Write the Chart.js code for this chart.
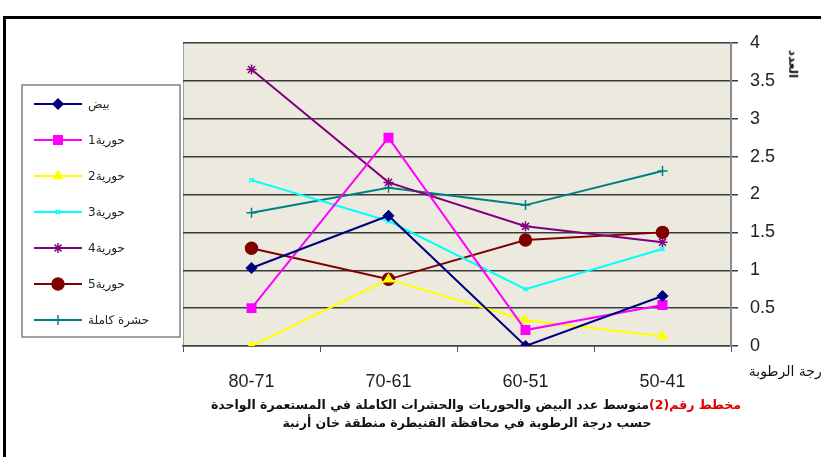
<!DOCTYPE html>
<html lang="ar">
<head>
<meta charset="utf-8">
<script src="https://cdn.jsdelivr.net/npm/chart.js@4.4.1/dist/chart.umd.min.js"></script>
<style>
    html, body { margin: 0; padding: 0; background: #fff; overflow: hidden; }
    #wrap { position: relative; width: 821px; height: 457px; overflow: hidden; }
    #frame { position: absolute; left: 3px; top: 16px; width: 840px; height: 470px;
             border-top: 3px solid #000; border-left: 3px solid #000; }
    #chart { position: absolute; left: 0; top: 0; }
    .txt { position: absolute; font-family: 'DejaVu Sans', sans-serif; white-space: nowrap; color: #111; direction: rtl; }
    .cap { font-weight: bold; font-size: 12.5px; text-align: center; left: 0; }
    .red { color: #e00000; }
</style>
</head>
<body>
<div id="wrap">
    <div id="frame"></div>
    <canvas id="chart" width="821" height="457"></canvas>
    <div class="txt" id="xTitle" style="right:-7px; top:363px; font-size:14px;"></div>
    <div class="txt" id="yTitle" style="left:779px; top:57px; font-size:12px; font-weight:bold; transform:rotate(90deg);"></div>
    <div class="txt cap" id="cap1" style="width:952px; top:397px;"></div>
    <div class="txt cap" id="cap2" style="width:934px; top:415px;"></div>
</div>
<script>
// humidity ranges (right-to-left chart, so 80-71 first on the left)
const categories = ['80-71', '70-61', '60-51', '50-41'];

// average count per colony
const eggs    = [1.03, 1.72, 0.00, 0.66];
const nymph1  = [0.50, 2.75, 0.21, 0.54];
const nymph2  = [0.00, 0.88, 0.34, 0.13];
const nymph3  = [2.19, 1.65, 0.75, 1.28];
const nymph4  = [3.65, 2.16, 1.58, 1.37];
const nymph5  = [1.29, 0.88, 1.40, 1.50];
const adults  = [1.76, 2.09, 1.86, 2.31];

const seriesNames = ['بيض', 'حورية1', 'حورية2', 'حورية3', 'حورية4', 'حورية5', 'حشرة كاملة'];
const yTicks = [0, 0.5, 1, 1.5, 2, 2.5, 3, 3.5, 4];

const xTitle = 'درجة الرطوبة';
const yTitle = 'العدد';
const capLabel = 'مخطط رقم(2)';
const capLine1 = 'متوسط عدد البيض والحوريات والحشرات الكاملة في المستعمرة الواحدة';
const capLine2 = 'حسب درجة الرطوبة في محافظة القنيطرة منطقة خان أرنبة';

document.getElementById('xTitle').textContent = xTitle;
document.getElementById('yTitle').textContent = yTitle;
document.getElementById('cap1').innerHTML = '<span class="red">' + capLabel + '</span>' + capLine1;
document.getElementById('cap2').textContent = capLine2;

function makeSet(label, data, color, style, radius) {
    return {
        label: label,
        data: data,
        borderColor: color,
        backgroundColor: color,
        borderWidth: 2,
        pointStyle: style,
        pointRadius: radius,
        pointBorderColor: color,
        pointBackgroundColor: color,
        pointBorderWidth: 1.5,
        tension: 0
    };
}

const datasets = [
    makeSet(seriesNames[0], eggs,   '#000080', 'rectRot', 5),
    makeSet(seriesNames[1], nymph1, '#ff00ff', 'rect', 6),
    makeSet(seriesNames[2], nymph2, '#ffff00', 'triangle', 5),
    makeSet(seriesNames[3], nymph3, '#00ffff', 'crossRot', 3),
    makeSet(seriesNames[4], nymph4, '#800080', 'star', 5),
    makeSet(seriesNames[5], nymph5, '#800000', 'circle', 6),
    makeSet(seriesNames[6], adults, '#008080', 'cross', 5)
];

// plot area fill
const plotBg = {
    id: 'plotBg',
    beforeDraw(chart) {
        const { ctx, chartArea: a } = chart;
        ctx.save();
        ctx.fillStyle = '#eceadf';
        ctx.fillRect(a.left, a.top, a.right - a.left, a.bottom - a.top);
        ctx.strokeStyle = '#a0a0a0';
        ctx.lineWidth = 1;
        ctx.beginPath();
        ctx.moveTo(a.left + 0.5, a.top);
        ctx.lineTo(a.left + 0.5, a.bottom);
        ctx.stroke();
        ctx.restore();
    }
};

// boxed legend on the left, line sample + marker then text
const sideLegend = {
    id: 'sideLegend',
    afterDraw(chart) {
        const ctx = chart.ctx;
        const box = { x: 22, y: 85, w: 158, h: 252 };
        ctx.save();
        ctx.fillStyle = '#fff';
        ctx.fillRect(box.x, box.y, box.w, box.h);
        ctx.strokeStyle = '#808080';
        ctx.lineWidth = 1.5;
        ctx.strokeRect(box.x, box.y, box.w, box.h);
        chart.data.datasets.forEach((ds, i) => {
            const y = 104 + i * 36;
            ctx.strokeStyle = ds.borderColor;
            ctx.lineWidth = 2;
            ctx.beginPath();
            ctx.moveTo(34, y);
            ctx.lineTo(82, y);
            ctx.stroke();
            ctx.fillStyle = ds.pointBackgroundColor;
            ctx.strokeStyle = ds.pointBorderColor;
            ctx.lineWidth = 1.5;
            Chart.helpers.drawPoint(ctx, {
                pointStyle: ds.pointStyle,
                radius: ds.pointRadius,
                rotation: 0,
                borderWidth: 1.5
            }, 58, y);
            ctx.fillStyle = '#222';
            ctx.font = '12px "DejaVu Sans"';
            ctx.direction = 'rtl';
            ctx.textAlign = 'left';
            ctx.textBaseline = 'middle';
            ctx.fillText(ds.label, 88, y + 1);
        });
        ctx.restore();
    }
};

new Chart(document.getElementById('chart'), {
    type: 'line',
    data: { labels: categories, datasets: datasets },
    options: {
        responsive: false,
        animation: false,
        layout: { padding: { left: 183, top: 43, right: 0, bottom: 0 } },
        plugins: {
            legend: { display: false },
            tooltip: { enabled: false }
        },
        scales: {
            x: {
                offset: true,
                grid: {
                    offset: true,
                    drawOnChartArea: false,
                    drawTicks: true,
                    tickLength: 6,
                    color: '#555'
                },
                border: { display: true, color: '#444', width: 1.5 },
                ticks: {
                    color: '#222',
                    padding: 19,
                    maxRotation: 0,
                    font: { family: 'Liberation Sans, Arial', size: 18 }
                },
                afterFit: function(scale) { scale.height = 111; }
            },
            y: {
                position: 'right',
                min: 0,
                max: 4,
                afterBuildTicks: function(scale) {
                    scale.ticks = yTicks.map(v => ({ value: v }));
                },
                ticks: {
                    color: '#222',
                    padding: 12,
                    font: { family: 'Liberation Sans, Arial', size: 18 },
                    callback: function(value) { return String(value); }
                },
                grid: { color: '#3a3a3a', lineWidth: 1.5, tickLength: 7 },
                border: { display: true, color: '#8a8a8a', width: 2 },
                afterFit: function(scale) { scale.width = 90; }
            }
        }
    },
    plugins: [plotBg, sideLegend]
});
</script>
</body>
</html>
